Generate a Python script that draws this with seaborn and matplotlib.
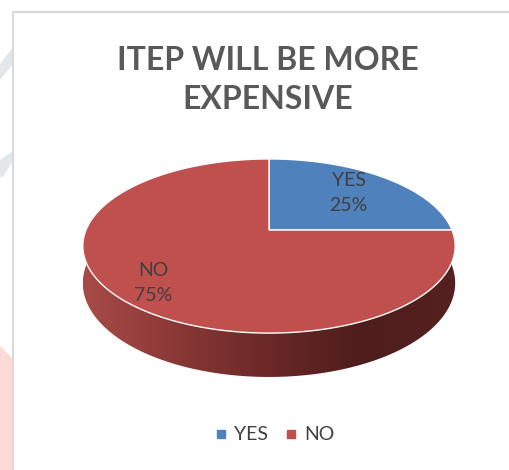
import numpy as np
import matplotlib
matplotlib.use("Agg")
import matplotlib.pyplot as plt
import seaborn as sns
from matplotlib.patches import Polygon
from matplotlib.lines import Line2D
from matplotlib.colors import LinearSegmentedColormap

# ---- data ----
categories = ["YES", "NO"]
values = [25, 75]
title = "ITEP WILL BE MORE\nEXPENSIVE"

# ---- style ----
sns.set_theme(style="white")
plt.rcParams['font.family'] = ['Lato', 'DejaVu Sans']
top_colors = ["#4F81BD", "#C0504D"]
text_color = "#404040"
title_color = "#595959"
label_frac = [0.67, 0.80]

W, H = 510, 470
fig = plt.figure(figsize=(W / 100, H / 100), dpi=100)
ax = fig.add_axes([0, 0, 1, 1])
ax.set_xlim(0, W)
ax.set_ylim(H, 0)
ax.axis("off")

# background decorations (left watermark + chart border)
ax.add_patch(Polygon([(0, 64), (13, 47), (13, 64), (0, 80)], closed=True,
                     facecolor="#E2E7EA", edgecolor="none", zorder=0))
ax.add_patch(Polygon([(0, 160), (13, 151), (13, 160), (3, 177), (0, 177)], closed=True,
                     facecolor="#E2E7EA", edgecolor="none", zorder=0))
ax.add_patch(Polygon([(0, 346), (12, 358), (12, 470), (0, 470)], closed=True,
                     facecolor="#FFD8D8", edgecolor="none", zorder=0))
ax.plot([13.5, 13.5, W], [H, 11.5, 11.5], color="#D9D9D9", lw=1.5, zorder=1,
        solid_capstyle="butt")

# perspective projection of the 3D pie
cx, cy = 269.0, 230.0
A = 183.0
P = 41.8
R = -0.184
THICK = 35.8


def proj(t, z=0.0):
    d = -np.sin(t)
    w = 1 + R * d
    X = cx + A * np.cos(t) / w
    Y = (cy + P * d + z) / w
    return X, Y


# side (front) with gradient
ts = np.linspace(np.pi, 2 * np.pi, 200)
xt, yt = proj(ts, 0)
xb, yb = proj(ts[::-1], THICK)
side_pts = np.column_stack([np.concatenate([xt, xb]), np.concatenate([yt, yb])])
side = Polygon(side_pts, closed=True, facecolor="none", edgecolor="none")
ax.add_patch(side)
cmap = LinearSegmentedColormap.from_list(
    "side", ["#A84B48", "#8A3836", "#6A2827", "#4E1D1C", "#552120"])
grad = np.linspace(0, 1, 256).reshape(1, -1)
x0, x1 = side_pts[:, 0].min(), side_pts[:, 0].max()
y0, y1 = side_pts[:, 1].min(), side_pts[:, 1].max()
im = ax.imshow(grad, extent=[x0, x1, y1, y0], cmap=cmap, aspect="auto", zorder=2)
im.set_clip_path(side)

# top face wedges (start at 12 o'clock, clockwise)
total = float(sum(values))
start = 0.0
for i, (cat, v) in enumerate(zip(categories, values)):
    frac = v / total
    a0 = np.pi / 2 - 2 * np.pi * start
    a1 = np.pi / 2 - 2 * np.pi * (start + frac)
    tt = np.linspace(a0, a1, 200)
    px, py = proj(tt, 0)
    pts = np.column_stack([np.concatenate([[cx], px]), np.concatenate([[cy], py])])
    ax.add_patch(Polygon(pts, closed=True, facecolor=top_colors[i],
                         edgecolor="white", lw=1.0, zorder=3, joinstyle="miter"))
    # label
    am = (a0 + a1) / 2
    f = label_frac[i]
    d = -np.sin(am) * f
    w = 1 + R * d
    lx = cx + A * np.cos(am) * f / w
    ly = (cy + P * d) / w
    ax.text(lx, ly, f"{cat}\n{int(round(frac * 100))}%", ha="center", va="center",
            fontsize=14, color=text_color, linespacing=1.55, zorder=5)
    start += frac

# title
ax.text(268, 80, title, ha="center", va="center", fontsize=23, fontweight="bold",
        color=title_color, linespacing=1.45, zorder=5)

# legend
handles = [Line2D([0], [0], marker="s", linestyle="none", markersize=6,
                  markerfacecolor=c, markeredgecolor=c) for c in top_colors]
leg = fig.legend(handles, categories, loc="center", bbox_to_anchor=(275 / W, 1 - 435 / H),
                 ncol=2, frameon=False, fontsize=14, handletextpad=0.37,
                 columnspacing=0.9, handlelength=0.6, labelcolor=text_color,
                 borderpad=0, borderaxespad=0)

fig.savefig("out.png", dpi=100, facecolor="white")
